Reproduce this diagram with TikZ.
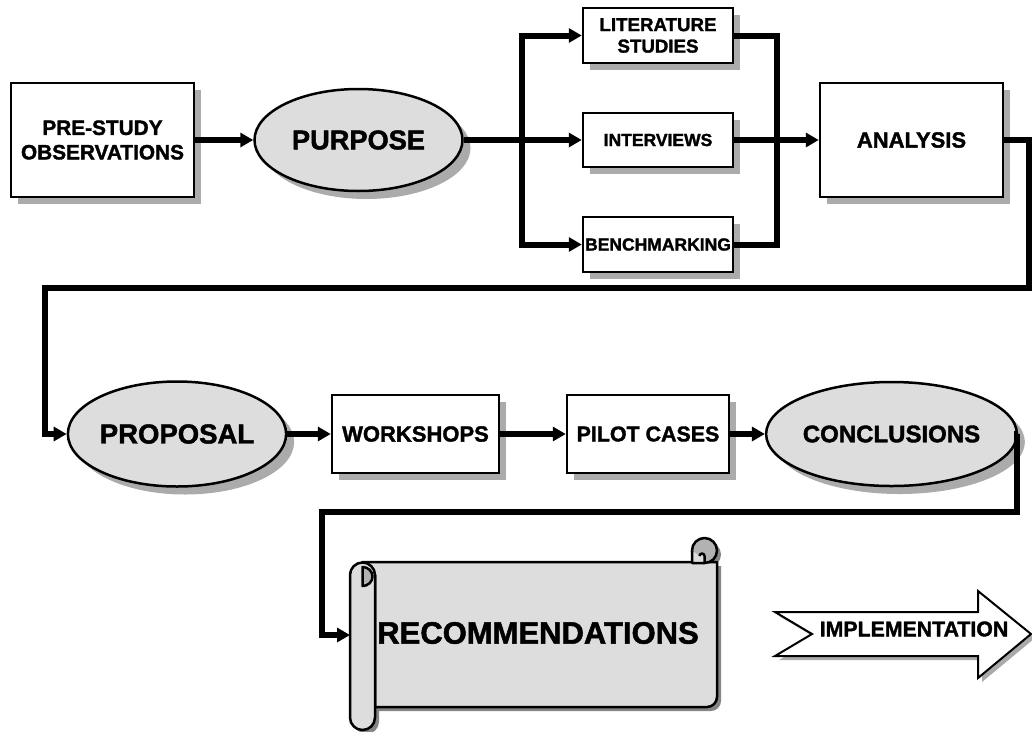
\documentclass[tikz,border=0pt]{standalone}
\usepackage{fontspec}
\setmainfont{Liberation Sans}[BoldFeatures={FakeBold=1.6}]
\usetikzlibrary{arrows.meta,shapes.geometric,shadows}

\definecolor{ovalfill}{HTML}{DDDDDD}
\definecolor{shadowgray}{HTML}{ABABAB}
\definecolor{curlfill}{HTML}{B2B2B2}
\definecolor{scrollshadow}{HTML}{858585}

\tikzset{
  txt/.style 2 args={font=\bfseries\fontsize{#1}{#2}\selectfont, align=center, inner sep=0pt},
  gridshadow/.style={drop shadow={shadow xshift=#1, shadow yshift=-#1, fill=shadowgray, opacity=1}},
  box/.style={draw, line width=2.5pt, fill=white, gridshadow=7pt},
  oval/.style={ellipse, draw, line width=2.5pt, fill=ovalfill, gridshadow=8pt},
  flow/.style={line width=6pt, line join=miter, -{Triangle[length=13pt,width=14pt]}},
  bus/.style={line width=6pt, line join=miter},
  outline/.style={draw, line width=2.5pt, line join=round},
}

\begin{document}
\begin{tikzpicture}[x=1pt, y=-1pt]
\useasboundingbox (0,0) rectangle (1032,731);

% ---------- first row ----------
\node[box, minimum width=183pt, minimum height=114pt, txt={20.8}{24.5}] (pre) at (102.5,140) {PRE-STUDY\\OBSERVATIONS};
\node[oval, minimum width=208pt, minimum height=102pt, txt={27.2}{32}] (pur) at (358.5,140) {PURPOSE};

\node[box, minimum width=150pt, minimum height=55pt, txt={18.7}{21.5}] (lit) at (658,35.5) {LITERATURE\\STUDIES};
\node[box, minimum width=150pt, minimum height=54pt, txt={17.5}{21}] (int) at (658,140) {INTERVIEWS};
\node[box, minimum width=150pt, minimum height=55pt, txt={17.5}{21}] (ben) at (658,244.5) {BENCHMARKING};

\node[box, minimum width=183pt, minimum height=114pt, txt={22}{26}] (ana) at (911.5,140) {ANALYSIS};

\coordinate (splitL) at (522,140);
\coordinate (splitR) at (777,140);

\draw[flow] (pre.east) -- (pur.west);
\draw[flow] (pur.east) -- (int.west);
\draw[flow] (splitL) |- (lit.west);
\draw[flow] (splitL) |- (ben.west);
\draw[bus] (lit.east) -| (splitR) |- (ben.east);
\draw[flow] (int.east) -- (ana.west);

% ---------- second row ----------
\node[oval, minimum width=210pt, minimum height=105pt, txt={27.5}{32}] (prop) at (177,434) {PROPOSAL};
\node[box, minimum width=167pt, minimum height=78pt, txt={22}{26}] (work) at (415.5,434) {WORKSHOPS};
\node[box, minimum width=162pt, minimum height=78pt, txt={21.4}{25}] (pilot) at (648,434) {PILOT CASES};
\node[oval, minimum width=207pt, minimum height=104pt, txt={24}{28}] (conc) at (891.5,434) {CONCLUSIONS};

\coordinate (r1) at (1029,288);
\coordinate (l1) at (45,288);
\draw[flow] (ana.east) -| (r1) -- (l1) |- (prop.west);

\draw[flow] (prop.east) -- (work.west);
\draw[flow] (work.east) -- (pilot.west);
\draw[flow] (pilot.east) -- (conc.west);

% ---------- scroll ----------
% shadow
\begin{scope}[shift={(4,4)}]
  \fill[scrollshadow] (362.5,562) -- (717,562) -- (717,697)
    arc[start angle=0, end angle=90, radius=10] -- (375,707) -- (375,575) -- cycle;
  \fill[scrollshadow] (350,575) -- (350,717.5)
    arc[start angle=180, end angle=0, radius=12.5] -- (375,575)
    arc[start angle=0, end angle=-180, radius=12.5] -- cycle;
  \fill[scrollshadow] (704.5,550.5) circle[radius=12.5];
\end{scope}
% body
\path[outline, fill=ovalfill] (362.5,562) -- (717,562) -- (717,697)
  arc[start angle=0, end angle=90, radius=10] -- (375,707) -- (375,575) -- cycle;
% right curl
\path[outline, fill=curlfill] (704.5,550.5) circle[radius=12.5];
\path[outline, fill=ovalfill] (692,550.5) -- (692,563) -- (704.5,563) -- (704.5,556)
  arc[start angle=0, end angle=-180, radius=2.5];
% left roll
\path[outline, fill=ovalfill] (350,575) -- (350,717.5)
  arc[start angle=180, end angle=0, radius=12.5] -- (375,575)
  arc[start angle=0, end angle=-180, radius=12.5] -- cycle;
\path[outline, fill=curlfill] (362.5,567) arc[start angle=-90, end angle=90, x radius=10, y radius=9.5] -- cycle;

\node[txt={31}{36}] (rec) at (538,633) {RECOMMENDATIONS};
\coordinate (recin) at (350,635);

\coordinate (r2) at (1017,512);
\coordinate (l2) at (322,512);
\draw[flow] (conc.east) -| (r2) -- (l2) |- (recin);

% ---------- implementation arrow ----------
\fill[scrollshadow!70] ([shift={(4,4)}]775,612) -- ([shift={(4,4)}]978,612) -- ([shift={(4,4)}]978,591)
  -- ([shift={(4,4)}]1031,634) -- ([shift={(4,4)}]978,678) -- ([shift={(4,4)}]978,656)
  -- ([shift={(4,4)}]775,656) -- ([shift={(4,4)}]812,634) -- cycle;
\path[draw, line width=2pt, line join=miter, fill=white] (775,612) -- (978,612) -- (978,591) -- (1031,634)
  -- (978,678) -- (978,656) -- (775,656) -- (812,634) -- cycle;
\node[txt={21.3}{24}] (impl) at (914,629) {IMPLEMENTATION};

\end{tikzpicture}
\end{document}
